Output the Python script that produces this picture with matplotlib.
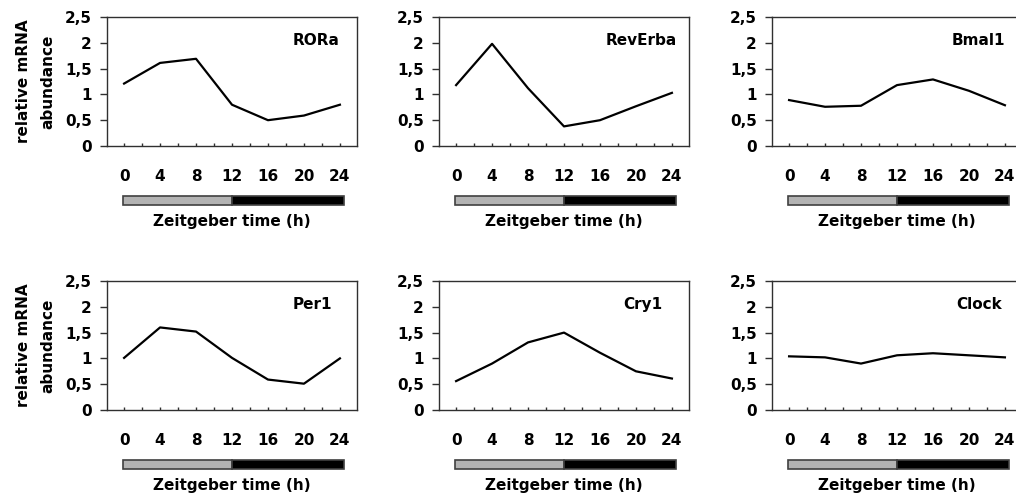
import matplotlib
matplotlib.use("Agg")
import matplotlib.pyplot as plt
from matplotlib.patches import Rectangle
from matplotlib.ticker import MultipleLocator, FuncFormatter

plt.rcParams['font.family'] = ['DejaVu Sans']
plt.rcParams['font.weight'] = 'bold'

hours = [0, 4, 8, 12, 16, 20, 24]
genes = ["RORa", "RevErba", "Bmal1", "Per1", "Cry1", "Clock"]
rora = [1.21, 1.61, 1.69, 0.80, 0.50, 0.59, 0.80]
reverba = [1.18, 1.98, 1.12, 0.38, 0.50, 0.77, 1.03]
bmal1 = [0.89, 0.76, 0.78, 1.18, 1.29, 1.07, 0.79]
per1 = [1.01, 1.60, 1.52, 1.01, 0.59, 0.51, 1.00]
cry1 = [0.56, 0.90, 1.31, 1.50, 1.11, 0.75, 0.61]
clock = [1.04, 1.02, 0.90, 1.06, 1.10, 1.06, 1.02]
series = [rora, reverba, bmal1, per1, cry1, clock]
light_phase = (0, 12)
dark_phase = (12, 24)
ylabel = "relative mRNA\nabundance"
xlabel = "Zeitgeber time (h)"

W, H = 1016, 497
fig = plt.figure(figsize=(W / 100, H / 100), dpi=100)

lefts = [107, 439, 772]
tops = [17, 281]
aw, ah = 250, 129
label_x = [24.0, 24.6, 24.0, 23.1, 22.9, 23.7]
FS = 11

def fmt(v, pos):
    return ("%g" % v).replace(".", ",")

for i, (name, vals) in enumerate(zip(genes, series)):
    r, c = divmod(i, 3)
    l = lefts[c]
    t = tops[r]
    ax = fig.add_axes([l / W, 1 - (t + ah) / H, aw / W, ah / H])
    ax.plot(hours, vals, color="black", lw=1.6, solid_joinstyle="round")
    ax.set_xlim(-1.9, 25.9)
    ax.set_ylim(0, 2.5)
    ax.xaxis.set_minor_locator(MultipleLocator(2))
    ax.set_xticks(hours)
    ax.yaxis.set_major_locator(MultipleLocator(0.5))
    ax.yaxis.set_major_formatter(FuncFormatter(fmt))
    for sp in ax.spines.values():
        sp.set_linewidth(1.0)
        sp.set_color("#303030")
    ax.tick_params(axis="x", which="both", direction="in", length=2.5, width=1,
                   color="#303030", pad=16.5, labelsize=FS)
    ax.tick_params(axis="y", direction="out", length=5, width=1,
                   color="#303030", pad=6, labelsize=FS)
    for lab in ax.get_xticklabels() + ax.get_yticklabels():
        lab.set_fontweight("bold")
    ax.text(label_x[i], 2.05, name, ha="right", va="center",
            fontsize=FS, fontweight="bold")
    tr = ax.get_xaxis_transform()
    y0, hgt = -0.457, 0.07
    ax.add_patch(Rectangle((-0.15, y0), light_phase[1] - light_phase[0] + 0.15, hgt,
                           transform=tr, clip_on=False, facecolor="#b3b3b3",
                           edgecolor="#404040", lw=1.2))
    ax.add_patch(Rectangle((dark_phase[0], y0), dark_phase[1] - dark_phase[0] + 0.4, hgt,
                           transform=tr, clip_on=False, facecolor="black",
                           edgecolor="#404040", lw=1.2))
    ax.text(0.5, -0.585, xlabel, transform=ax.transAxes, ha="center", va="center",
            fontsize=FS, fontweight="bold")
    if c == 0:
        ax.set_ylabel(ylabel, fontsize=FS, fontweight="bold", linespacing=1.8)
        ax.yaxis.set_label_coords(-0.206, 0.5)

fig.savefig("out.png", dpi=100)
